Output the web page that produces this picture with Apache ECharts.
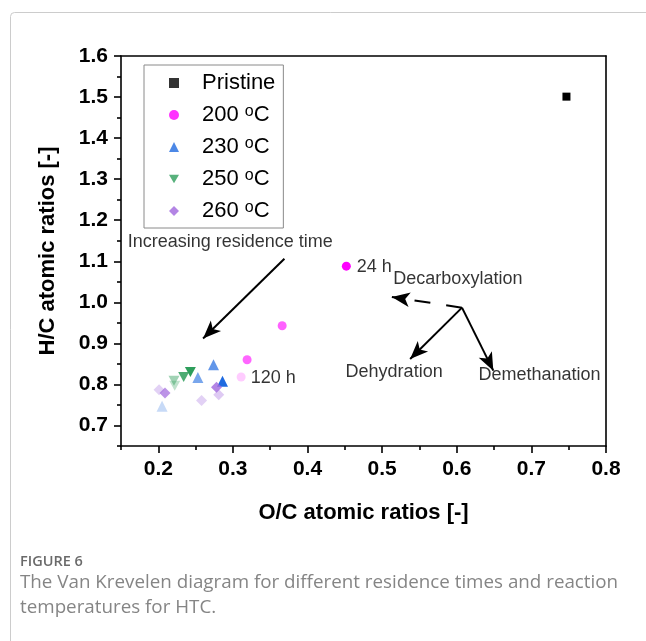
<!DOCTYPE html>
<html><head><meta charset="utf-8">
<script src="https://cdn.jsdelivr.net/npm/echarts@6.0.0/dist/echarts.min.js"></script>
<style>html,body{margin:0;padding:0;background:#fff}#chart{width:646px;height:641px}</style>
</head><body><div id="chart"></div>
<script>
// ---- data ----
const seriesNames = ['Pristine', '200 °C', '230 °C', '250 °C', '260 °C'];
const pristine = [[0.747, 1.501]];
const t200 = [[0.452, 1.088], [0.366, 0.943], [0.319, 0.860], [0.311, 0.818]];
const t230 = [[0.286, 0.808], [0.274, 0.848], [0.253, 0.817], [0.205, 0.747]];
const t250 = [[0.243, 0.830], [0.234, 0.818], [0.221, 0.809], [0.222, 0.797]];
const t260 = [[0.278, 0.793], [0.209, 0.779], [0.201, 0.787], [0.281, 0.775], [0.258, 0.761]];
const xTicks = [0.2, 0.3, 0.4, 0.5, 0.6, 0.7, 0.8];
const xMinor = [0.15, 0.25, 0.35, 0.45, 0.55, 0.65, 0.75];
const yTicks = [0.7, 0.8, 0.9, 1.0, 1.1, 1.2, 1.3, 1.4, 1.5, 1.6];
const yMinor = [0.65, 0.75, 0.85, 0.95, 1.05, 1.15, 1.25, 1.35, 1.45, 1.55];
const noteTexts = ['Increasing residence time', '24 h', '120 h', 'Decarboxylation', 'Dehydration', 'Demethanation'];
const noteAnchors = [[0.159, 1.146], [0.466, 1.086], [0.324, 0.816], [0.515, 1.057], [0.451, 0.830], [0.629, 0.824]];
const arrowStarts = [[0.369, 1.106], [0.607, 0.987], [0.607, 0.987], [0.607, 0.987]];
const arrowEnds = [[0.260, 0.912], [0.513, 1.013], [0.5375, 0.862], [0.649, 0.8335]];

// ---- styles (kept apart from the data) ----
const colors = ['#000000', '#ff00ff', '#1f6ae0', '#2e9e5b', '#a066dd'];
const symbols = ['rect', 'circle', 'triangle', 'path://M0,0 L10,0 L5,8.66 Z', 'diamond'];
const sizes = [8, 9, 11, [11, 10], 11];
const fades = [[1], [1, 0.62, 0.6, 0.2], [1, 0.7, 0.6, 0.25], [1, 0.85, 0.45, 0.3], [0.8, 0.7, 0.3, 0.35, 0.3]];
const arrowDashed = [false, true, false, false];

const sets = [pristine, t200, t230, t250, t260];
const FONT = 'Liberation Sans, Arial, sans-serif';

const series = sets.map((d, i) => ({
  name: seriesNames[i], type: 'scatter', symbol: symbols[i],
  symbolSize: sizes[i], itemStyle: { color: colors[i] },
  data: d.map((p, j) => ({ value: p, itemStyle: { opacity: fades[i][j] } })),
  z: 3
}));

series.push({
  name: 'notes', type: 'scatter', symbolSize: 0, silent: true, z: 5,
  data: noteTexts.map((t, i) => ({ name: t, value: noteAnchors[i] })),
  label: { show: true, position: 'right', distance: 0, formatter: '{b}',
    fontFamily: FONT, fontSize: 18, color: '#000' },
  markLine: {
    silent: true, animation: false, symbol: ['none', 'arrow'], symbolSize: [11, 18],
    label: { show: false },
    lineStyle: { color: '#000', width: 2, type: 'solid', opacity: 1 },
    data: arrowStarts.map((s, i) => {
      const ls = { color: '#000', width: 2, type: arrowDashed[i] ? [16, 16] : 'solid' };
      return [{ coord: s, lineStyle: ls }, { coord: arrowEnds[i], lineStyle: ls }];
    })
  }
});

const tickLabel = { fontFamily: FONT, fontSize: 21, fontWeight: 'bold', color: '#000' };
const axisLine = { show: true, onZero: false, lineStyle: { color: '#000', width: 1.6 } };

const option = {
  animation: false,
  backgroundColor: '#fff',
  grid: { left: 121, right: 40, top: 56, bottom: 195, containLabel: false },
  legend: {
    data: seriesNames, orient: 'vertical', left: 144, top: 65,
    padding: [7, 8, 6, 25], itemWidth: 10, itemHeight: 10, itemGap: 10,
    symbolKeepAspect: true,
    borderColor: '#8a8a8a', borderWidth: 1, backgroundColor: '#fff',
    textStyle: { fontFamily: FONT, fontSize: 22, color: '#000', lineHeight: 22, padding: [0, 0, 0, 18],
      rich: { s: { fontFamily: FONT, fontSize: 16, lineHeight: 15, verticalAlign: 'top', color: '#000' } } },
    formatter: n => n.replace(' °C', ' {s|o}C')
  },
  xAxis: [
    { type: 'value', min: 0.15, max: 0.8, position: 'bottom',
      name: 'O/C atomic ratios [-]', nameLocation: 'middle', nameGap: 56,
      nameTextStyle: { fontFamily: FONT, fontSize: 22, fontWeight: 'bold', color: '#000' },
      axisLine, splitLine: { show: false },
      axisTick: { show: true, inside: false, length: 7, customValues: xTicks, lineStyle: { color: '#000', width: 1.6 } },
      axisLabel: { ...tickLabel, margin: 13, customValues: xTicks, formatter: v => v.toFixed(1) } },
    { type: 'value', min: 0.15, max: 0.8, position: 'bottom', gridIndex: 0,
      axisLine: { show: false }, splitLine: { show: false }, axisLabel: { show: false },
      axisTick: { show: true, length: 4, customValues: xMinor, lineStyle: { color: '#000', width: 1.6 } } },
    { type: 'value', min: 0.15, max: 0.8, position: 'top',
      axisLine, splitLine: { show: false }, axisLabel: { show: false }, axisTick: { show: false } }
  ],
  yAxis: [
    { type: 'value', min: 0.65, max: 1.6, position: 'left',
      name: 'H/C atomic ratios [-]', nameLocation: 'middle', nameGap: 62, nameRotate: 90,
      nameTextStyle: { fontFamily: FONT, fontSize: 22, fontWeight: 'bold', color: '#000' },
      axisLine, splitLine: { show: false },
      axisTick: { show: true, inside: false, length: 7, customValues: yTicks, lineStyle: { color: '#000', width: 1.6 } },
      axisLabel: { ...tickLabel, margin: 13, customValues: yTicks, formatter: v => v.toFixed(1) } },
    { type: 'value', min: 0.65, max: 1.6, position: 'left',
      axisLine: { show: false }, splitLine: { show: false }, axisLabel: { show: false },
      axisTick: { show: true, length: 4, customValues: yMinor, lineStyle: { color: '#000', width: 1.6 } } },
    { type: 'value', min: 0.65, max: 1.6, position: 'right',
      axisLine, splitLine: { show: false }, axisLabel: { show: false }, axisTick: { show: false } }
  ],
  series,
  graphic: [
    { type: 'rect', left: 8, top: 10, silent: true, z: -10,
      shape: { width: 700, height: 700, r: 4 }, style: { fill: 'none', stroke: '#cccccc', lineWidth: 1 } },
    { type: 'text', left: 20, top: 554, style: { text: 'FIGURE 6', font: '600 14.5px "Open Sans", sans-serif', fill: '#6a6a6a' } },
    { type: 'text', left: 20, top: 573, style: { text: 'The Van Krevelen diagram for different residence times and reaction', font: '18.8px "Open Sans", sans-serif', fill: '#858585' } },
    { type: 'text', left: 20, top: 598, style: { text: 'temperatures for HTC.', font: '18.8px "Open Sans", sans-serif', fill: '#858585' } }
  ]
};

const chart = echarts.init(document.getElementById('chart'), null, { renderer: 'canvas' });
chart.setOption(option);
</script>
</body></html>
